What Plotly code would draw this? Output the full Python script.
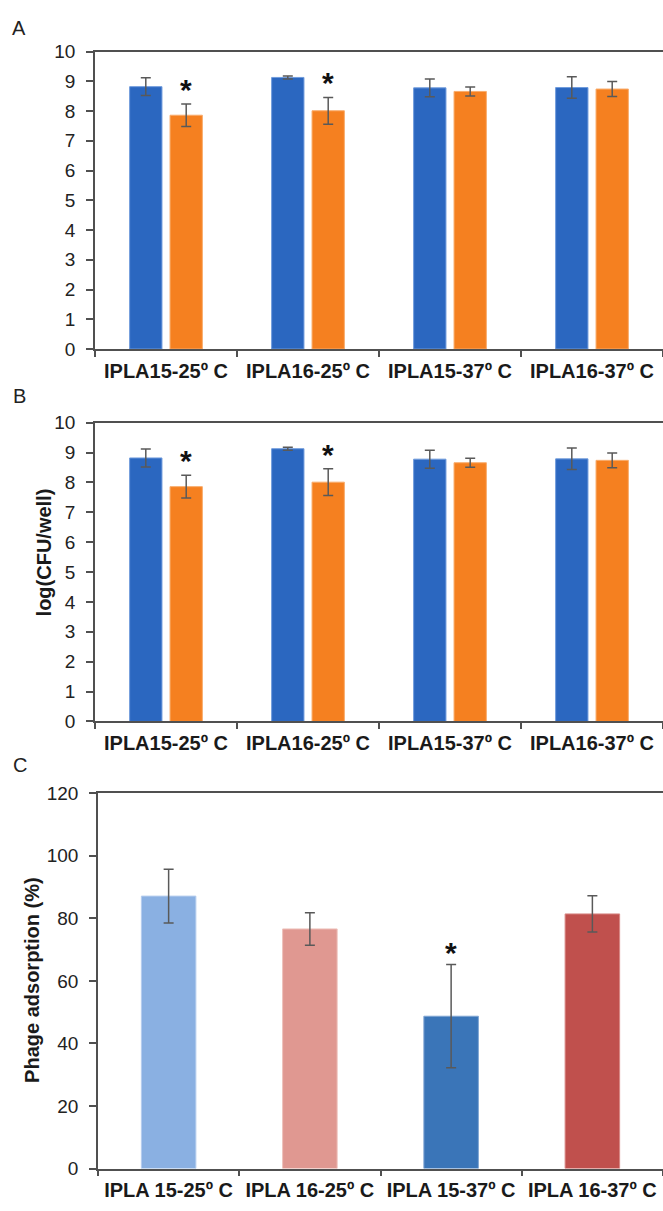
import plotly.graph_objects as go

# ---------------- data ----------------
categories_ab = ["IPLA15-25º C", "IPLA16-25º C", "IPLA15-37º C", "IPLA16-37º C"]
blue_vals = [8.82, 9.13, 8.78, 8.79]
blue_err = [0.30, 0.05, 0.30, 0.36]
orange_vals = [7.86, 8.01, 8.66, 8.74]
orange_err = [0.38, 0.45, 0.15, 0.25]
orange_sig = [True, True, False, False]

categories_c = ["IPLA 15-25º C", "IPLA 16-25º C", "IPLA 15-37º C", "IPLA 16-37º C"]
adsorption = [87.1, 76.6, 48.7, 81.4]
adsorption_err = [8.6, 5.2, 16.5, 5.8]
adsorption_sig = [False, False, True, False]

# ---------------- style ----------------
FONT = "Liberation Sans, Arial, sans-serif"
AX = "#505050"
ERR = "#595959"
BLUE, BLUE_EDGE = "#2B67C0", "#6F9BDC"
ORANGE, ORANGE_EDGE = "#F58020", "#F9AC6C"
C_COLORS = ["#8AB0E2", "#E09891", "#3A75B8", "#C0504D"]
C_EDGES = ["#B5CDEE", "#EDC0BA", "#7FA5D3", "#D88784"]

W, H = 663, 1211


def py(px):
    return 1 - px / H


fig = go.Figure()

panels = [("x", "y"), ("x2", "y2")]
for xa, ya in panels:
    fig.add_trace(go.Bar(
        x=categories_ab, y=blue_vals, xaxis=xa, yaxis=ya, name="Series 1",
        marker=dict(color=BLUE, line=dict(color=BLUE_EDGE, width=1)),
        error_y=dict(type="data", array=blue_err, color=ERR, thickness=1.5, width=5),
        showlegend=False))
    fig.add_trace(go.Bar(
        x=categories_ab, y=orange_vals, xaxis=xa, yaxis=ya, name="Series 2",
        marker=dict(color=ORANGE, line=dict(color=ORANGE_EDGE, width=1)),
        error_y=dict(type="data", array=orange_err, color=ERR, thickness=1.5, width=5),
        showlegend=False))

fig.add_trace(go.Bar(
    x=categories_c, y=adsorption, xaxis="x3", yaxis="y3", name="Adsorption",
    width=0.386, offset=-0.193,
    marker=dict(color=C_COLORS, line=dict(color=C_EDGES, width=1)),
    error_y=dict(type="data", array=adsorption_err, color=ERR, thickness=1.5, width=5),
    showlegend=False))

xcommon = dict(type="category", tickson="boundaries", ticks="outside", ticklen=6,
               tickcolor=AX, tickwidth=1.5, showline=True, linecolor=AX, linewidth=1.5,
               mirror=True, showgrid=False, zeroline=False,
               tickfont=dict(family=FONT, size=20, color="#1a1a1a", weight="bold"),
               ticklabelstandoff=3)
ycommon = dict(ticks="outside", ticklen=7, tickcolor=AX, tickwidth=1.5, showline=True,
               linecolor=AX, linewidth=1.5, showgrid=False, zeroline=False,
               tickfont=dict(family=FONT, size=19, color="#222222"),
               ticklabelstandoff=7)

fig.update_layout(
    width=W, height=H, margin=dict(l=0, r=0, t=0, b=0),
    paper_bgcolor="white", plot_bgcolor="white",
    barmode="group", bargap=0.431, bargroupgap=0.2,
    xaxis=dict(domain=[95 / W, 1], anchor="y", **xcommon),
    yaxis=dict(domain=[py(345), py(42.3)], anchor="x", range=[0, 10], dtick=1, **ycommon),
    xaxis2=dict(domain=[95 / W, 1], anchor="y2", **xcommon),
    yaxis2=dict(domain=[py(724), py(420)], anchor="x2", range=[0, 10], dtick=1, **ycommon),
    xaxis3=dict(domain=[98 / W, 1], anchor="y3", **xcommon),
    yaxis3=dict(domain=[py(1179), py(797)], anchor="x3", range=[0, 120], dtick=20, **ycommon),
)

ann = []
# panel letters
for letter, xpx, ypx in [("A", 19, 18.5), ("B", 19, 393), ("C", 20, 768)]:
    ann.append(dict(text=letter, xref="paper", yref="paper", x=xpx / W, y=py(ypx),
                    xanchor="center", yanchor="middle", showarrow=False,
                    font=dict(family=FONT, size=20, color="#222222")))
# y titles
ann.append(dict(text="log(CFU/well)", xref="paper", yref="paper", x=44 / W, y=py(552),
                textangle=-90, xanchor="center", yanchor="middle", showarrow=False,
                font=dict(family=FONT, size=20, color="#1a1a1a", weight="bold")))
ann.append(dict(text="Phage adsorption (%)", xref="paper", yref="paper", x=32 / W, y=py(987),
                textangle=-90, xanchor="center", yanchor="middle", showarrow=False,
                font=dict(family=FONT, size=20, color="#1a1a1a", weight="bold")))
# significance stars
STAR = dict(family=FONT, size=30, color="#111111", weight="bold")
for xa, ya in [("x", "y"), ("x2", "y2")]:
    for cat, v, e, s in zip(categories_ab, orange_vals, orange_err, orange_sig):
        if s:
            ann.append(dict(text="*", xref=xa, yref=ya, x=cat, y=v + e, xshift=20, yshift=-4,
                            xanchor="center", yanchor="bottom", showarrow=False, font=STAR))
for cat, v, e, s in zip(categories_c, adsorption, adsorption_err, adsorption_sig):
    if s:
        ann.append(dict(text="*", xref="x3", yref="y3", x=cat, y=v + e, yshift=-6,
                        xanchor="center", yanchor="bottom", showarrow=False, font=STAR))
fig.update_layout(annotations=ann)

fig.write_html("out.html")
